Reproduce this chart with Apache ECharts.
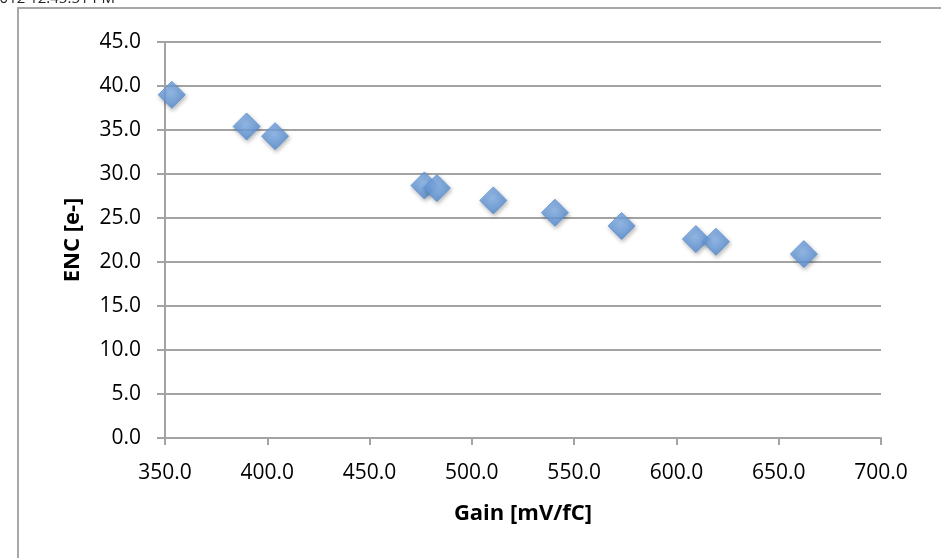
<!DOCTYPE html>
<html>
<head>
<meta charset="utf-8">
<script src="https://cdn.jsdelivr.net/npm/echarts@6/dist/echarts.min.js"></script>
<style>
  html, body { margin: 0; padding: 0; background: #fff; }
  #encChart { width: 941px; height: 558px; }
</style>
</head>
<body>
<div id="encChart"></div>
<script>
// 数据
var gain = [353.3, 389.9, 403.8, 476.8, 482.9, 510.5, 540.6, 573.2, 609.5, 619.3, 662.3];
var enc = [39.0, 35.4, 34.3, 28.7, 28.4, 27.0, 25.6, 24.1, 22.6, 22.3, 20.9];
var xRange = [350, 700];
var yRange = [0, 45];

var points = gain.map(function (g, i) { return [g, enc[i]]; });

var myChart = echarts.init(document.getElementById('encChart'));
var axisGrey = '#a3a3a3';
var option = {
    backgroundColor: '#fff',
    textStyle: { fontFamily: 'Open Sans' },
    graphic: [
        {
            type: 'text',
            left: -9,
            top: -9,
            style: { text: '2012 12:45:51 PM', font: '15px "Open Sans"', fill: '#222' }
        },
        {
            type: 'polyline',
            shape: { points: [[18, 558], [18, 8], [941, 8]] },
            style: { stroke: '#a8a8a8', lineWidth: 2, fill: null }
        }
    ],
    grid: { left: 165, right: 60, top: 42, bottom: 120 },
    xAxis: {
        type: 'value',
        min: xRange[0],
        max: xRange[1],
        interval: 50,
        name: 'Gain [mV/fC]',
        nameLocation: 'middle',
        nameGap: 65,
        nameTextStyle: { fontSize: 22, fontWeight: 'bold', color: '#000', fontFamily: 'Open Sans' },
        axisLine: { show: true, lineStyle: { color: axisGrey, width: 2 } },
        axisTick: { show: true, length: 7, lineStyle: { color: axisGrey, width: 2 } },
        axisLabel: {
            fontSize: 21, color: '#000', margin: 25,
            formatter: function (v) { return v.toFixed(1); }
        },
        splitLine: { show: false }
    },
    yAxis: {
        type: 'value',
        min: yRange[0],
        max: yRange[1],
        interval: 5,
        name: 'ENC [e-]',
        nameLocation: 'middle',
        nameGap: 81,
        nameTextStyle: { fontSize: 22, fontWeight: 'bold', color: '#000', fontFamily: 'Open Sans' },
        axisLine: { show: true, lineStyle: { color: axisGrey, width: 2 } },
        axisTick: { show: true, length: 8, lineStyle: { color: axisGrey, width: 2 } },
        axisLabel: {
            fontSize: 21, color: '#000', margin: 24,
            formatter: function (v) { return v.toFixed(1); }
        },
        splitLine: { show: true, lineStyle: { color: axisGrey, width: 2 } }
    },
    series: [
        {
            name: 'ENC',
            type: 'scatter',
            symbol: 'diamond',
            symbolSize: 27,
            itemStyle: {
                color: new echarts.graphic.RadialGradient(0.45, 0.4, 0.7, [
                    { offset: 0, color: '#86b4ec' },
                    { offset: 1, color: '#4b86d0' }
                ]),
                borderColor: '#5a90d4',
                borderWidth: 1,
                shadowColor: 'rgba(0,0,0,0.35)',
                shadowBlur: 4,
                shadowOffsetX: 1,
                shadowOffsetY: 2
            },
            data: points
        }
    ]
};
myChart.setOption(option);
</script>
</body>
</html>
